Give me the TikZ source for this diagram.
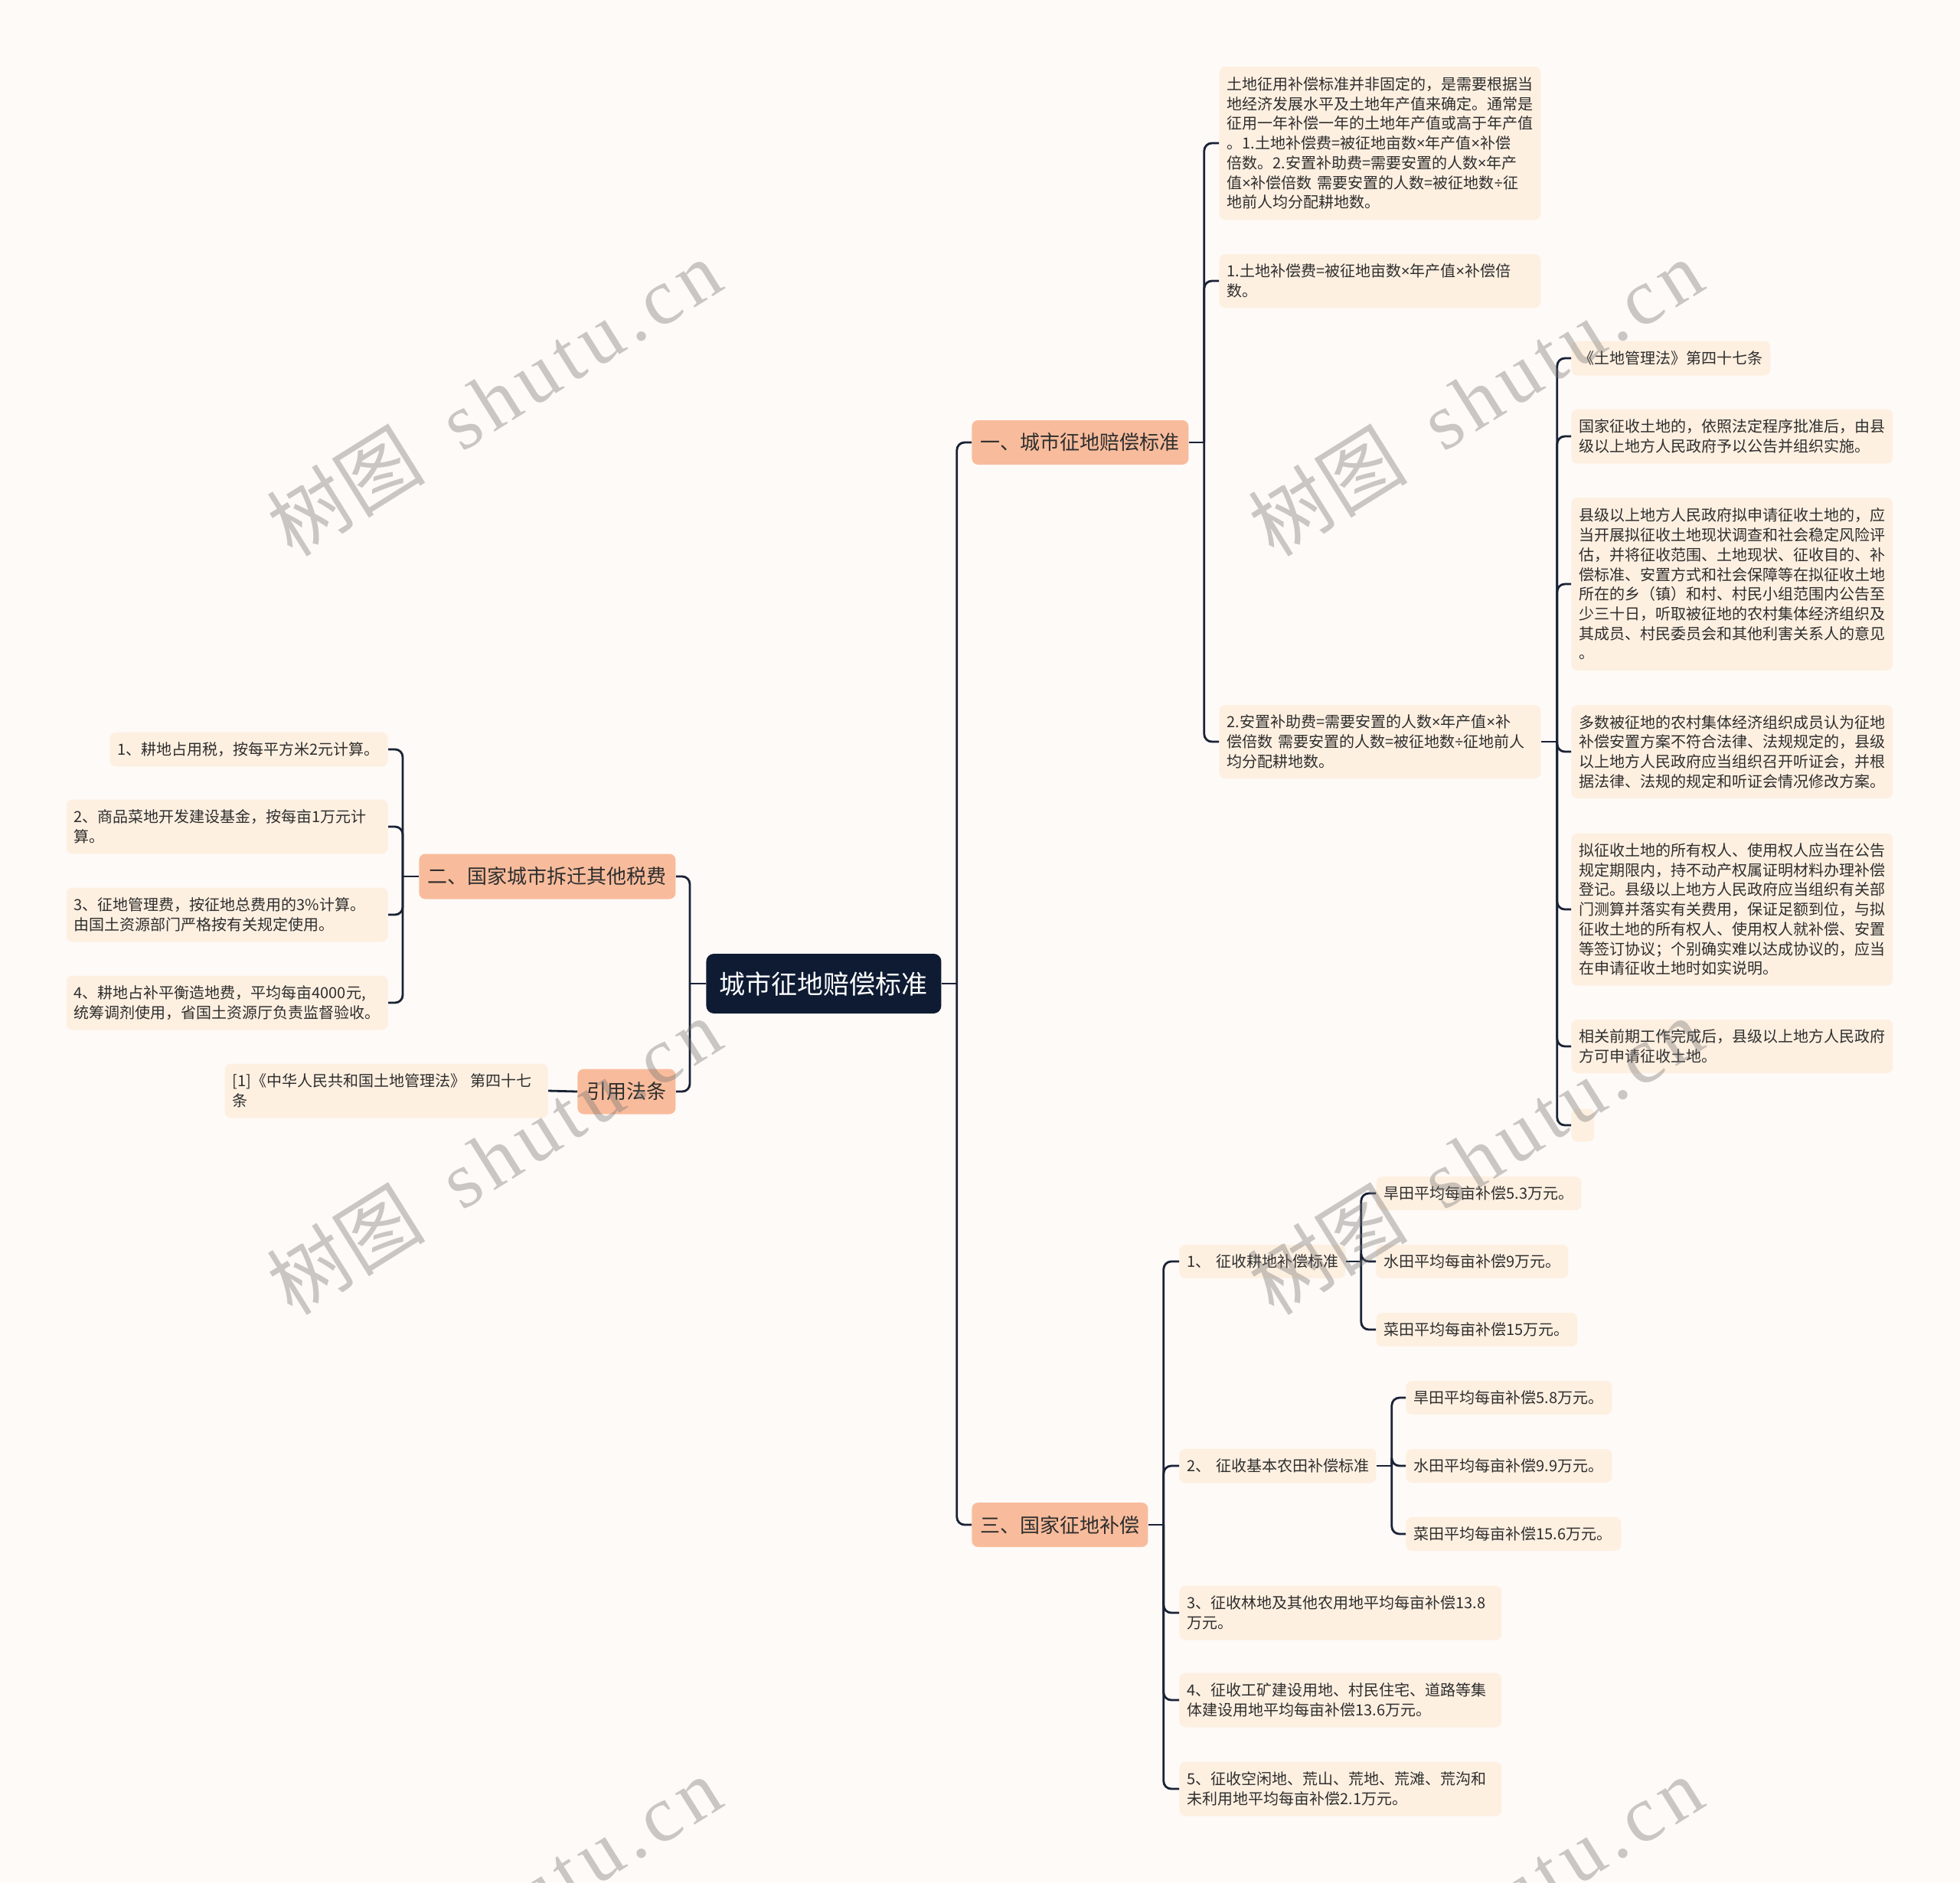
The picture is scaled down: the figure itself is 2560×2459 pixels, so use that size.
\documentclass[tikz,border=0pt]{standalone}
\usepackage{fontspec}
\setmainfont{Noto Sans CJK SC}
\newfontfamily\wmcjk{Noto Sans CJK SC}
\newfontfamily\wmlatin[LetterSpace=8]{Liberation Serif}
\newfontfamily\opfont{Noto Sans}
\newcommand\tm{{\opfont ×}}
\newcommand\dv{{\opfont ÷}}
\usetikzlibrary{calc}
\definecolor{bgc}{HTML}{FEFAF7}
\definecolor{leafc}{HTML}{FEF0E1}
\definecolor{branchc}{HTML}{F8BC9C}
\definecolor{rootc}{HTML}{0E1B33}
\definecolor{linec}{HTML}{1A2236}
\definecolor{txtc}{HTML}{2E2E2E}
\newcommand\leaffont{\fontsize{10pt}{12.85pt}\selectfont}
\newcommand\branchfont{\fontsize{13pt}{16pt}\selectfont}
\newcommand\rootfont{\fontsize{17pt}{20pt}\selectfont}
\begin{document}
\begin{tikzpicture}[x=0.5pt,y=-0.5pt,
  leaf/.style={fill=leafc, rounded corners=4pt, inner xsep=5pt, inner ysep=0pt, anchor=west, align=left, text=txtc, font=\leaffont},
  leafr/.style={fill=leafc, rounded corners=4pt, inner xsep=5pt, inner ysep=0pt, anchor=east, align=left, text=txtc, font=\leaffont},
  branch/.style={fill=branchc, rounded corners=4pt, inner sep=0pt, anchor=west, align=center, text=txtc, font=\branchfont},
  rootbox/.style={fill=rootc, rounded corners=5pt, inner sep=0pt, anchor=west, align=center, text=white, font=\rootfont},
  conn/.style={draw=linec, line width=1.4pt, rounded corners=5pt},
  wm/.style={rotate=32, text=black!55, opacity=0.38, inner sep=0pt}
]
\fill[bgc] (0,0) rectangle (2560,2459);
\useasboundingbox (0,0) rectangle (2560,2459);

% root and branches
\node[rootbox, minimum width=153.5pt, minimum height=39pt] (root) at (922,1285) {城市征地赔偿标准};
\node[branch, minimum width=141.5pt, minimum height=29pt] (b1) at (1269,578) {一、城市征地赔偿标准};
\node[branch, minimum width=115pt, minimum height=29pt] (b3) at (1269,1992) {三、国家征地补偿};
\node[branch, minimum width=167.5pt, minimum height=29.5pt] (b2) at (547,1145) {二、国家城市拆迁其他税费};
\node[branch, minimum width=64pt, minimum height=29.5pt] (b4) at (754,1426) {引用法条};

% branch 1 leaves
\node[leaf, text width=200pt, minimum height=100pt] (A) at (1592,187) {土地征用补偿标准并非固定的，是需要根据当\\地经济发展水平及土地年产值来确定。通常是\\征用一年补偿一年的土地年产值或高于年产值\\。1.土地补偿费=被征地亩数\tm 年产值\tm 补偿\\倍数。2.安置补助费=需要安置的人数\tm 年产\\值\tm 补偿倍数 需要安置的人数=被征地数\dv 征\\地前人均分配耕地数。};
\node[leaf, text width=200pt, minimum height=35pt] (B) at (1592,367) {1.土地补偿费=被征地亩数\tm 年产值\tm 补偿倍\\数。};
\node[leaf, text width=200pt, minimum height=48pt] (C) at (1592,969) {2.安置补助费=需要安置的人数\tm 年产值\tm 补\\偿倍数 需要安置的人数=被征地数\dv 征地前人\\均分配耕地数。};

% C children
\node[leaf, text width=120pt, minimum height=22.5pt] (D1) at (2052,468) {《土地管理法》第四十七条};
\node[leaf, text width=200pt, minimum height=35.5pt] (D2) at (2052,570) {国家征收土地的，依照法定程序批准后，由县\\级以上地方人民政府予以公告并组织实施。};
\node[leaf, text width=200pt, minimum height=113pt] (D3) at (2052,763) {县级以上地方人民政府拟申请征收土地的，应\\当开展拟征收土地现状调查和社会稳定风险评\\估，并将征收范围、土地现状、征收目的、补\\偿标准、安置方式和社会保障等在拟征收土地\\所在的乡（镇）和村、村民小组范围内公告至\\少三十日，听取被征地的农村集体经济组织及\\其成员、村民委员会和其他利害关系人的意见\\。};
\node[leaf, text width=200pt, minimum height=61pt] (D4) at (2052,982) {多数被征地的农村集体经济组织成员认为征地\\补偿安置方案不符合法律、法规规定的，县级\\以上地方人民政府应当组织召开听证会，并根\\据法律、法规的规定和听证会情况修改方案。};
\node[leaf, text width=200pt, minimum height=99.5pt] (D5) at (2052,1188) {拟征收土地的所有权人、使用权人应当在公告\\规定期限内，持不动产权属证明材料办理补偿\\登记。县级以上地方人民政府应当组织有关部\\门测算并落实有关费用，保证足额到位，与拟\\征收土地的所有权人、使用权人就补偿、安置\\等签订协议；个别确实难以达成协议的，应当\\在申请征收土地时如实说明。};
\node[leaf, text width=200pt, minimum height=35pt] (D6) at (2052,1367) {相关前期工作完成后，县级以上地方人民政府\\方可申请征收土地。};
\node[leaf, minimum width=15pt, minimum height=21.5pt, inner xsep=0pt] (D7) at (2052,1470) {};

% branch 3 leaves
\node[leaf, text width=98.5pt, minimum height=22pt] (E1) at (1540,1648) {\mbox{1、 征收耕地补偿标准}};
\node[leaf, text width=118.5pt, minimum height=22.5pt] (E2) at (1540,1915) {\mbox{2、 征收基本农田补偿标准}};
\node[leaf, text width=200.5pt, minimum height=35.5pt] (E3) at (1540,2107) {3、征收林地及其他农用地平均每亩补偿13.8\\万元。};
\node[leaf, text width=200.5pt, minimum height=35.5pt] (E4) at (1540,2221) {4、征收工矿建设用地、村民住宅、道路等集\\体建设用地平均每亩补偿13.6万元。};
\node[leaf, text width=200.5pt, minimum height=35.5pt] (E5) at (1540,2337) {5、征收空闲地、荒山、荒地、荒滩、荒沟和\\未利用地平均每亩补偿2.1万元。};
\node[leaf, text width=124pt, minimum height=22pt] (F1) at (1797,1559) {旱田平均每亩补偿5.3万元。};
\node[leaf, text width=115.5pt, minimum height=22pt] (F2) at (1797,1648) {水田平均每亩补偿9万元。};
\node[leaf, text width=121.5pt, minimum height=22pt] (F3) at (1797,1737) {菜田平均每亩补偿15万元。};
\node[leaf, text width=124.5pt, minimum height=22pt] (G1) at (1836,1826) {旱田平均每亩补偿5.8万元。};
\node[leaf, text width=124.5pt, minimum height=22pt] (G2) at (1836,1915) {水田平均每亩补偿9.9万元。};
\node[leaf, text width=130.5pt, minimum height=22pt] (G3) at (1836,2004) {菜田平均每亩补偿15.6万元。};

% branch 2 leaves
\node[leafr, text width=171.5pt, minimum height=22.5pt] (H1) at (507,979) {1、耕地占用税，按每平方米2元计算。};
\node[leafr, text width=200pt, minimum height=35.5pt] (H2) at (507,1080) {2、商品菜地开发建设基金，按每亩1万元计\\算。};
\node[leafr, text width=200pt, minimum height=35.5pt] (H3) at (507,1195) {3、征地管理费，按征地总费用的3\%计算。\\由国土资源部门严格按有关规定使用。};
\node[leafr, text width=200pt, minimum height=35.5pt] (H4) at (507,1310) {4、耕地占补平衡造地费，平均每亩4000元,\\统筹调剂使用，省国土资源厅负责监督验收。};
\node[leafr, text width=201pt, minimum height=35.5pt] (I1) at (716,1425) {[1]《中华人民共和国土地管理法》 第四十七\\条};

% junctions
\coordinate (jR) at ($(root.east)+(20,0)$);
\coordinate (jL) at ($(root.west)+(-21,0)$);
\coordinate (j1) at ($(b1.east)+(20,0)$);
\coordinate (jC) at ($(C.east)+(21,0)$);
\coordinate (jE) at ($(b3.east)+(20,0)$);
\coordinate (jF) at ($(E1.east)+(20,0)$);
\coordinate (jG) at ($(E2.east)+(20,0)$);
\coordinate (jH) at ($(b2.west)+(-21,0)$);

% connectors
\draw[conn] (root.east) -- (jR);
\draw[conn] (jR) |- (b1.west);
\draw[conn] (jR) |- (b3.west);
\draw[conn] (root.west) -- (jL);
\draw[conn] (jL) |- (b2.east);
\draw[conn] (jL) |- (b4.east);

\draw[conn] (b1.east) -- (j1);
\foreach \n in {A,B,C} \draw[conn] (j1) |- (\n.west);

\draw[conn] (C.east) -- (jC);
\foreach \n in {D1,D2,D3,D4,D5,D6,D7} \draw[conn] (jC) |- (\n.west);

\draw[conn] (b3.east) -- (jE);
\foreach \n in {E1,E2,E3,E4,E5} \draw[conn] (jE) |- (\n.west);

\draw[conn] (E1.east) -- (jF);
\foreach \n in {F1,F2,F3} \draw[conn] (jF) |- (\n.west);

\draw[conn] (E2.east) -- (jG);
\foreach \n in {G1,G2,G3} \draw[conn] (jG) |- (\n.west);

\draw[conn] (b2.west) -- (jH);
\foreach \n in {H1,H2,H3,H4} \draw[conn] (jH) |- (\n.east);

\draw[conn] (b4.west) -- (I1.east);

% watermarks
\begin{scope}
\clip (0,0) rectangle (2560,2459);
\foreach \wx/\wy [count=\i] in {645/519,1927/519,645/1510,1927/1510,645/2501,1927/2501}
  \node[wm] (wm\i) at (\wx,\wy) {\fontsize{52pt}{52pt}\selectfont\wmcjk 树图\hspace{0.5em}\wmlatin shutu.cn};
\end{scope}
\end{tikzpicture}
\end{document}
